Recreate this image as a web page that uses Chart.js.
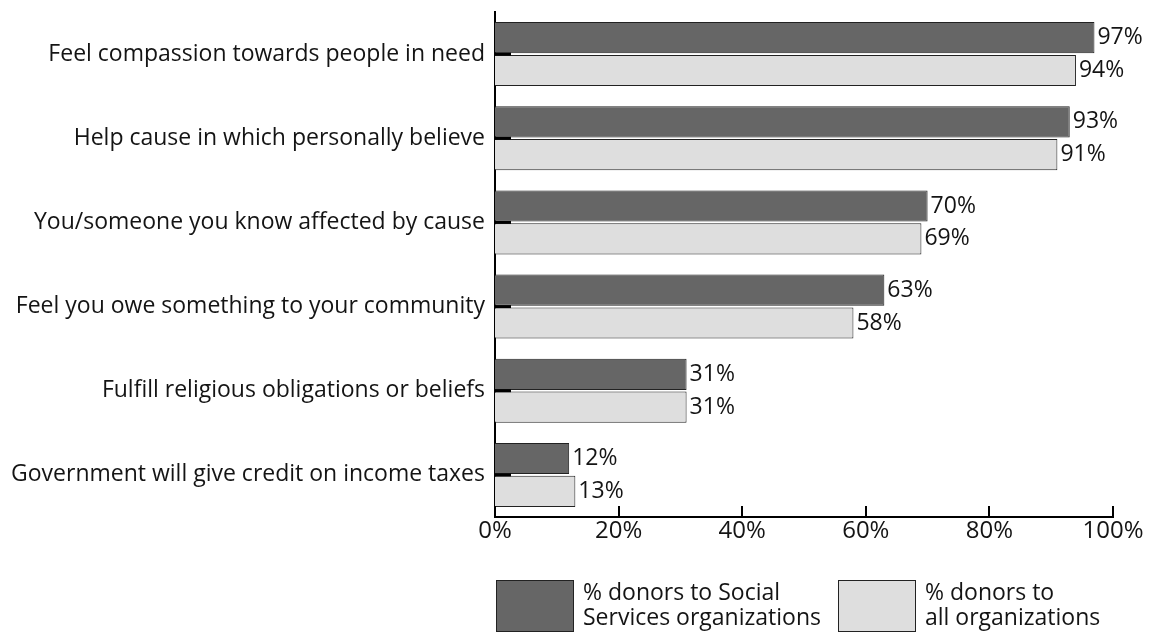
<!DOCTYPE html>
<html>
<head>
<meta charset="utf-8">
<script src="https://cdn.jsdelivr.net/npm/chart.js@4"></script>
<style>
  html, body { margin: 0; padding: 0; background: #fff; }
  #wrap { width: 1152px; height: 633px; position: relative; }
</style>
</head>
<body>
<div id="wrap"><canvas id="chart"></canvas></div>
<script>
  var categories = [
    "Feel compassion towards people in need",
    "Help cause in which personally believe",
    "You/someone you know affected by cause",
    "Feel you owe something to your community",
    "Fulfill religious obligations or beliefs",
    "Government will give credit on income taxes"
  ];
  var socialServices = [97, 93, 70, 63, 31, 12];
  var allOrgs = [94, 91, 69, 58, 31, 13];
  var xTicks = [0, 20, 40, 60, 80, 100];
  var legendLines = [
    ["% donors to Social", "Services organizations"],
    ["% donors to", "all organizations"]
  ];

  var FONT = "'Open Sans', 'Noto Sans', sans-serif";
  var TEXT = "#141414";

  var decor = {
    id: "decor",
    afterDatasetsDraw: function (chart) {
      var ctx = chart.ctx;
      var xs = chart.scales.x;
      var ys = chart.scales.y;
      ctx.save();

      // inward tick marks on the value axis
      ctx.strokeStyle = "#000";
      ctx.lineWidth = 2;
      xTicks.forEach(function (v) {
        var px = Math.round(xs.getPixelForValue(v));
        ctx.beginPath();
        ctx.moveTo(px, xs.top);
        ctx.lineTo(px, xs.top - 11);
        ctx.stroke();
      });

      // short category marks next to the axis
      ctx.lineWidth = 3;
      categories.forEach(function (c, i) {
        var py = ys.getPixelForValue(i);
        ctx.beginPath();
        ctx.moveTo(ys.right, py);
        ctx.lineTo(ys.right + 16, py);
        ctx.stroke();
      });

      // value labels at the end of each bar
      ctx.fillStyle = TEXT;
      ctx.font = "23px " + FONT;
      ctx.textAlign = "left";
      ctx.textBaseline = "middle";
      chart.data.datasets.forEach(function (ds, di) {
        chart.getDatasetMeta(di).data.forEach(function (bar, i) {
          ctx.fillText(ds.data[i] + "%", bar.x + 3, bar.y);
        });
      });
      ctx.restore();
    },
    afterDraw: function (chart) {
      var ctx = chart.ctx;
      var boxX = [496, 838];
      ctx.save();
      chart.data.datasets.forEach(function (ds, di) {
        var x = boxX[di];
        ctx.fillStyle = ds.backgroundColor;
        ctx.fillRect(x, 580, 77, 51);
        ctx.strokeStyle = "#222";
        ctx.lineWidth = 1;
        ctx.strokeRect(x + 0.5, 580.5, 77, 51);
        ctx.fillStyle = TEXT;
        ctx.font = "23px " + FONT;
        ctx.textAlign = "left";
        ctx.textBaseline = "middle";
        legendLines[di].forEach(function (line, li) {
          ctx.fillText(line, x + 87, 593 + li * 25);
        });
      });
      ctx.restore();
    }
  };

  new Chart(document.getElementById("chart"), {
    type: "bar",
    data: {
      labels: categories,
      datasets: [
        {
          label: "% donors to Social Services organizations",
          data: socialServices,
          backgroundColor: "#666666",
          borderColor: "#222",
          borderWidth: 1,
          categoryPercentage: 0.78,
          barPercentage: 0.95
        },
        {
          label: "% donors to all organizations",
          data: allOrgs,
          backgroundColor: "#dedede",
          borderColor: "#222",
          borderWidth: 1,
          categoryPercentage: 0.78,
          barPercentage: 0.95
        }
      ]
    },
    options: {
      indexAxis: "y",
      responsive: true,
      maintainAspectRatio: false,
      animation: false,
      layout: { padding: { left: 0, right: 39, top: 12, bottom: 56 } },
      scales: {
        x: {
          min: 0,
          max: 100,
          afterBuildTicks: function (scale) {
            scale.ticks = xTicks.map(function (v) { return { value: v }; });
          },
          afterFit: function (scale) {
            scale.height = 60;
            scale.paddingLeft = 0;
            scale.paddingRight = 0;
          },
          grid: { display: false, drawTicks: false },
          border: { display: true, color: "#000", width: 2 },
          ticks: {
            color: TEXT,
            padding: 0,
            font: { size: 24, family: FONT },
            callback: function (v) { return v + "%"; }
          }
        },
        y: {
          afterFit: function (scale) {
            scale.width = 495;
            scale.paddingTop = 0;
            scale.paddingBottom = 0;
          },
          grid: { display: false, drawTicks: false },
          border: { display: true, color: "#000", width: 2 },
          ticks: {
            color: TEXT,
            padding: 10,
            autoSkip: false,
            font: { size: 23, family: FONT }
          }
        }
      },
      plugins: {
        legend: { display: false },
        tooltip: { enabled: false }
      }
    },
    plugins: [decor]
  });
</script>
</body>
</html>
